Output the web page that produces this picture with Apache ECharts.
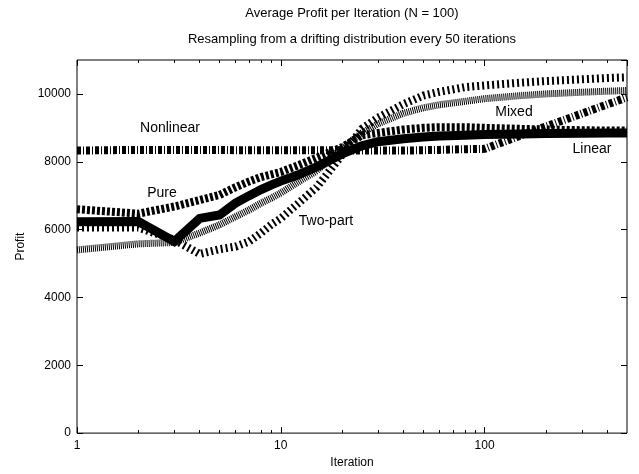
<!DOCTYPE html>
<html>
<head>
<meta charset="utf-8">
<script src="https://cdn.jsdelivr.net/npm/echarts@6/dist/echarts.min.js"></script>
<style>
html, body { margin: 0; padding: 0; background: #fff; }
#chart { width: 639px; height: 474px; }
</style>
</head>
<body>
<div id="chart"></div>
<script>
var iterations = [1, 2, 3, 4, 5, 6, 7, 8, 9, 10, 12, 15, 20, 25, 30, 40, 50, 60, 80, 100, 150, 200, 300, 400, 500]
var linearProfit = [6230, 6240, 5650, 6330, 6430, 6780, 7000, 7180, 7320, 7430, 7600, 7850, 8230, 8470, 8590, 8680, 8730, 8760, 8780, 8800, 8820, 8830, 8840, 8850, 8850]
var pureProfit = [6600, 6470, 6680, 6870, 7020, 7250, 7420, 7550, 7630, 7700, 7880, 8120, 8430, 8780, 8850, 8950, 9000, 9020, 9020, 9000, 8970, 8950, 8930, 8920, 8920]
var nonlinearProfit = [8330, 8350, 8350, 8350, 8350, 8340, 8340, 8340, 8340, 8340, 8340, 8340, 8340, 8330, 8330, 8330, 8340, 8350, 8370, 8380, 8770, 9040, 9420, 9690, 9900]
var twoPartProfit = [6060, 6060, 5700, 5280, 5420, 5500, 5650, 5900, 6150, 6330, 6740, 7250, 8200, 8970, 9300, 9700, 9950, 10060, 10200, 10250, 10330, 10380, 10430, 10470, 10490]
var mixedProfit = [5400, 5580, 5620, 5900, 6140, 6380, 6580, 6780, 6930, 7080, 7380, 7730, 8400, 8850, 9120, 9430, 9590, 9680, 9780, 9860, 9950, 10000, 10050, 10080, 10100]
var minorTicks = [2, 3, 4, 5, 6, 7, 8, 9, 20, 30, 40, 50, 60, 70, 80, 90, 200, 300, 400]

function pairs(values) {
	return iterations.map(function(it, i) { return [it, values[i]] })
}

var font = 'Liberation Sans, Arial, sans-serif'

function makeX(pos, minor) {
	return {
		type: 'log',
		logBase: 10,
		min: 1,
		max: 500,
		position: pos,
		axisLine: { show: false },
		splitLine: { show: false },
		axisTick: {
			inside: true,
			length: minor ? 3 : 6,
			customValues: minor ? minorTicks : undefined,
			lineStyle: { color: '#000', width: 1 }
		},
		axisLabel: {
			show: pos === 'bottom' && !minor,
			showMaxLabel: false,
			color: '#000',
			fontFamily: font,
			fontSize: 12,
			margin: 7
		},
		name: pos === 'bottom' && !minor ? 'Iteration' : '',
		nameLocation: 'middle',
		nameGap: 23,
		nameTextStyle: { color: '#000', fontFamily: font, fontSize: 12 }
	}
}

function makeY(pos) {
	return {
		type: 'value',
		min: 0,
		max: 11000,
		interval: 2000,
		position: pos,
		axisLine: { show: false },
		splitLine: { show: false },
		axisTick: { inside: true, length: 6, lineStyle: { color: '#000', width: 1 } },
		axisLabel: {
			show: pos === 'left',
			showMaxLabel: false,
			color: '#000',
			fontFamily: font,
			fontSize: 12,
			margin: 6,
			formatter: function(v) { return String(v) }
		},
		name: pos === 'left' ? 'Profit' : '',
		nameLocation: 'middle',
		nameRotate: 90,
		nameGap: 45,
		nameTextStyle: { color: '#000', fontFamily: font, fontSize: 12 }
	}
}

function line(name, values, width, dash) {
	return {
		name: name,
		type: 'line',
		data: pairs(values),
		showSymbol: false,
		symbol: 'none',
		silent: true,
		lineStyle: { color: '#000', width: width, type: dash, cap: 'butt', join: 'miter' }
	}
}

var myEchart = echarts.init(document.getElementById('chart'), null, { renderer: 'canvas' })
var option = {
	animation: false,
	backgroundColor: '#fff',
	grid: {
		left: 77,
		right: 12,
		top: 60,
		bottom: 40,
		show: true,
		borderColor: '#000',
		borderWidth: 1
	},
	xAxis: [makeX('bottom', false), makeX('bottom', true), makeX('top', false), makeX('top', true)],
	yAxis: [makeY('left'), makeY('right')],
	graphic: [
		{ type: 'text', x: 352, y: 13, style: { text: 'Average Profit per Iteration (N = 100)', fill: '#000', font: '13px ' + font, textAlign: 'center', textVerticalAlign: 'middle' } },
		{ type: 'text', x: 352, y: 39, style: { text: 'Resampling from a drifting distribution every 50 iterations', fill: '#000', font: '13px ' + font, textAlign: 'center', textVerticalAlign: 'middle' } },
		{ type: 'text', x: 170, y: 128, z: 10, style: { text: 'Nonlinear', fill: '#000', font: '14px ' + font, textAlign: 'center', textVerticalAlign: 'middle' } },
		{ type: 'text', x: 162, y: 193, z: 10, style: { text: 'Pure', fill: '#000', font: '14px ' + font, textAlign: 'center', textVerticalAlign: 'middle' } },
		{ type: 'text', x: 326, y: 221, z: 10, style: { text: 'Two-part', fill: '#000', font: '14px ' + font, textAlign: 'center', textVerticalAlign: 'middle' } },
		{ type: 'text', x: 514, y: 112, z: 10, style: { text: 'Mixed', fill: '#000', font: '14px ' + font, textAlign: 'center', textVerticalAlign: 'middle' } },
		{ type: 'text', x: 592, y: 149, z: 10, style: { text: 'Linear', fill: '#000', font: '14px ' + font, textAlign: 'center', textVerticalAlign: 'middle' } }
	],
	series: [
		line('Linear', linearProfit, 9, 'solid'),
		line('Mixed', mixedProfit, 7, [1, 1]),
		line('Pure', pureProfit, 8, [3, 2]),
		line('Two-part', twoPartProfit, 8, [2, 3]),
		line('Nonlinear', nonlinearProfit, 8, [4, 2, 1, 2])
	]
}
myEchart.setOption(option)
</script>
</body>
</html>
